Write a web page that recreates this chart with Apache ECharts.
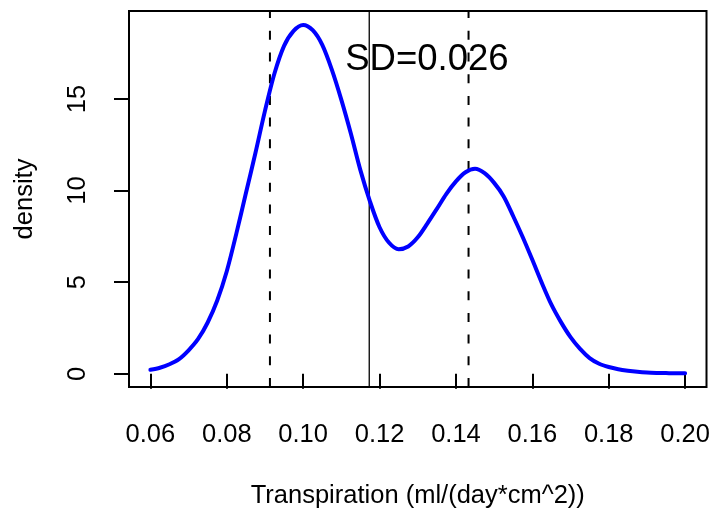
<!DOCTYPE html>
<html><head><meta charset="utf-8">
<script src="https://cdn.jsdelivr.net/npm/echarts@6/dist/echarts.min.js"></script>
<style>html,body{margin:0;padding:0;background:#fff}#c{width:713px;height:514px}</style>
</head><body><div id="c"></div>
<script>
const xVals = [0.0600,0.0625,0.0650,0.0675,0.0700,0.0725,0.0750,0.0775,0.0800,0.0825,
  0.0850,0.0875,0.0900,0.0925,0.0950,0.0975,0.1000,0.1025,0.1050,0.1075,
  0.1100,0.1125,0.1150,0.1175,0.1200,0.1225,0.1250,0.1275,0.1300,0.1325,
  0.1350,0.1375,0.1400,0.1425,0.1450,0.1475,0.1500,0.1525,0.1550,0.1575,
  0.1600,0.1625,0.1650,0.1675,0.1700,0.1725,0.1750,0.1775,0.1800,0.1825,
  0.1850,0.1875,0.1900,0.1925,0.1950,0.1975,0.2000];
const density = [0.22,0.33,0.52,0.80,1.28,1.90,2.80,4.00,5.60,7.65,
  9.85,12.05,14.35,16.40,17.90,18.72,19.04,18.75,17.95,16.60,
  14.95,13.10,11.10,9.40,8.00,7.15,6.80,6.95,7.45,8.20,
  9.00,9.82,10.50,11.00,11.19,10.95,10.42,9.68,8.60,7.45,
  6.22,4.95,3.77,2.82,2.00,1.36,0.86,0.55,0.37,0.25,
  0.17,0.11,0.07,0.05,0.04,0.03,0.03];
const xTicks = [0.06,0.08,0.10,0.12,0.14,0.16,0.18,0.20];
const yTicks = [0,5,10,15];
const meanX = 0.1173;
const sdLines = [0.0913, 0.1433];
const sdText = 'SD=0.026';
const sdTextPos = [0.1324, 17.15];
const xTitle = 'Transpiration (ml/(day*cm^2))';
const yTitle = 'density';

const X_MIN = 0.0544, X_MAX = 0.2056, Y_MIN = -0.72, Y_MAX = 19.8;
const FONT = '"Liberation Sans", Arial, Helvetica, sans-serif';
const chart = echarts.init(document.getElementById('c'), null, {renderer: 'canvas'});
const vline = (x, style) => ({
  type: 'line', data: [[x, Y_MIN], [x, Y_MAX]], showSymbol: false, silent: true,
  lineStyle: style, itemStyle: {color: '#000'}, z: 2
});
const dashStyle = {color: '#000', width: 2, type: [9, 12.7]};
chart.setOption({
  animation: false,
  backgroundColor: '#fff',
  grid: {left: 129, right: 6.5, top: 11, bottom: 125.7, show: true,
         borderColor: '#000', borderWidth: 2, backgroundColor: 'transparent'},
  xAxis: {
    type: 'value', min: X_MIN, max: X_MAX,
    name: xTitle, nameLocation: 'middle', nameGap: 96,
    nameTextStyle: {fontFamily: FONT, fontSize: 25.5, color: '#000'},
    axisLine: {show: false},
    splitLine: {show: false},
    axisTick: {show: true, length: 15, customValues: xTicks, lineStyle: {color: '#000', width: 2}},
    axisLabel: {customValues: xTicks, margin: 35, fontFamily: FONT, fontSize: 25.5, color: '#000',
      formatter: v => v.toFixed(2)}
  },
  yAxis: {
    type: 'value', min: Y_MIN, max: Y_MAX,
    name: yTitle, nameLocation: 'middle', nameGap: 91,
    nameTextStyle: {fontFamily: FONT, fontSize: 25.5, color: '#000'},
    axisLine: {show: false},
    splitLine: {show: false},
    axisTick: {show: true, length: 15, customValues: yTicks, lineStyle: {color: '#000', width: 2}},
    axisLabel: {customValues: yTicks, rotate: 90, margin: 38, fontFamily: FONT, fontSize: 25.5, color: '#000',
      formatter: v => String(v)}
  },
  series: [
    vline(sdLines[0], dashStyle),
    vline(meanX, {color: '#000', width: 1.3, type: 'solid'}),
    vline(sdLines[1], dashStyle),
    {
      type: 'line',
      data: xVals.map((x, i) => [x, density[i]]),
      showSymbol: false,
      smooth: 0.3,
      lineStyle: {color: '#0000ff', width: 4, cap: 'round', join: 'round'},
      itemStyle: {color: '#0000ff'},
      z: 3,
      markPoint: {
        silent: true, symbol: 'circle', symbolSize: 0, animation: false,
        data: [{coord: sdTextPos}],
        label: {show: true, position: 'inside', formatter: sdText,
          fontFamily: FONT, fontSize: 36.5, color: '#000'}
      }
    }
  ]
});
</script></body></html>
